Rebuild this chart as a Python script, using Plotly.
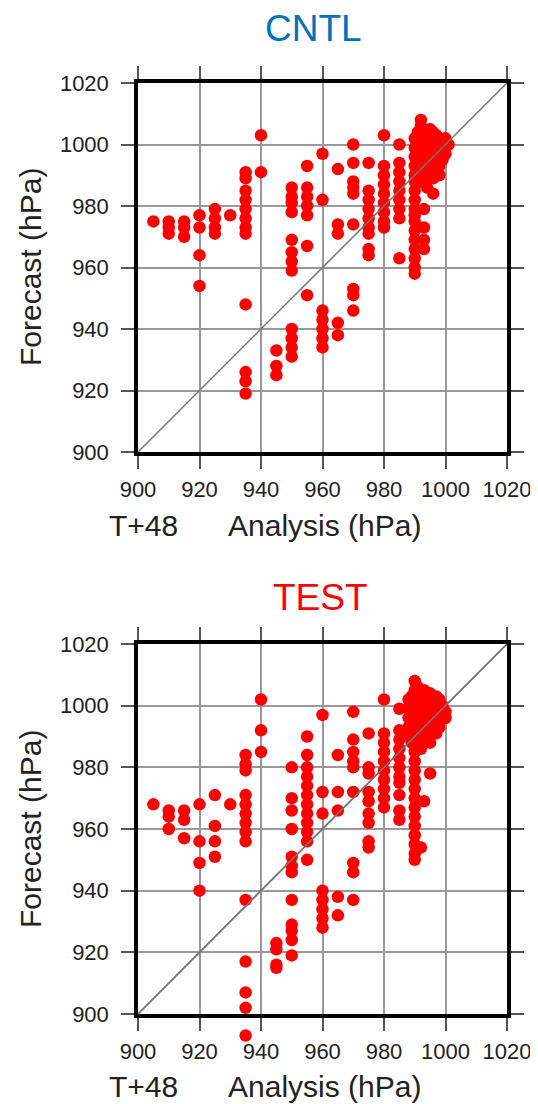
import plotly.graph_objects as go

# ---------------- data (hPa) ----------------
cntl_x = ([905] + [910]*3 + [915]*3 + [920]*4 + [925]*4 + [930] + [935]*12 + [940]*2 + [945]*3
          + [950]*12 + [955]*7 + [960]*7 + [965]*5 + [970]*9 + [975]*9 + [980]*9 + [985]*9
          + [990]*11 + [993]*4 + [996]
          + [990]*6 + [991]*6 + [992]*8 + [993]*6 + [994]*7 + [995]*6 + [996]*6 + [997]*5
          + [998]*5 + [999]*3 + [1000]*3 + [1001])
cntl_y = ([975] + [975, 973, 971] + [975, 973, 970] + [977, 973, 964, 954] + [979, 976, 973, 971] + [977]
          + [991, 989, 985, 982, 979, 976, 973, 971, 948, 926, 923, 919] + [1003, 991] + [933, 928, 925]
          + [986, 983, 981, 978, 969, 965, 962, 959, 940, 937, 934, 931]
          + [993, 986, 983, 980, 977, 967, 951]
          + [997, 982, 946, 943, 940, 937, 934]
          + [992, 974, 971, 942, 938]
          + [1000, 994, 988, 986, 984, 974, 953, 951, 946]
          + [994, 985, 982, 979, 976, 973, 971, 966, 964]
          + [1003, 993, 990, 987, 984, 981, 978, 975, 973]
          + [1000, 994, 991, 988, 985, 982, 979, 976, 963]
          + [985, 982, 979, 977, 975, 972, 969, 966, 963, 960, 958]
          + [979, 973, 969, 966] + [984]
          + [1002, 999, 996, 993, 990, 988]
          + [1004, 1001, 998, 995, 992, 989]
          + [1008, 1006, 1003, 1000, 997, 994, 991, 988]
          + [1005, 1002, 999, 996, 993, 990]
          + [1004, 1001, 998, 995, 992, 989, 986]
          + [1005, 1002, 999, 996, 993, 990]
          + [1004, 1001, 998, 995, 992, 989]
          + [1003, 1000, 997, 994, 991]
          + [1002, 999, 996, 993, 990]
          + [1001, 998, 995]
          + [1002, 999, 997]
          + [1000])

test_x = ([905] + [910]*3 + [915]*3 + [920]*4 + [925]*4 + [930] + [935]*14 + [940]*3 + [945]*4
          + [950]*12 + [955]*12 + [960]*8 + [965]*5 + [970]*9 + [975]*9 + [980]*10 + [985]*11
          + [990]*12 + [992] + [993] + [995]
          + [988]*5 + [989]*6 + [990]*9 + [991]*7 + [992]*7 + [993]*6 + [994]*6 + [995]*6
          + [996]*5 + [997]*5 + [998]*4 + [999]*2 + [1000]*2)
test_y = ([968] + [966, 964, 960] + [966, 963, 957] + [968, 956, 949, 940] + [971, 961, 956, 951] + [968]
          + [984, 981, 979, 971, 968, 965, 962, 959, 956, 937, 917, 907, 902, 893]
          + [1002, 992, 985] + [923, 921, 916, 915]
          + [980, 970, 966, 960, 951, 948, 946, 937, 929, 927, 924, 919]
          + [990, 984, 980, 977, 974, 971, 968, 965, 962, 959, 956, 950]
          + [997, 972, 965, 940, 937, 934, 931, 928]
          + [984, 972, 966, 938, 932]
          + [998, 989, 985, 982, 980, 972, 949, 946, 937]
          + [991, 980, 978, 972, 969, 965, 962, 956, 954]
          + [1002, 991, 988, 985, 982, 979, 976, 973, 970, 967]
          + [999, 992, 989, 986, 983, 980, 977, 975, 971, 966, 963]
          + [982, 979, 976, 973, 970, 967, 964, 961, 958, 955, 952, 950]
          + [954] + [969] + [978]
          + [1002, 999, 996, 993, 990]
          + [1003, 1000, 997, 994, 991, 988]
          + [1008, 1005, 1002, 999, 996, 993, 990, 987, 985]
          + [1006, 1003, 1000, 997, 994, 991, 988]
          + [1004, 1001, 998, 995, 992, 989, 986]
          + [1005, 1002, 999, 996, 993, 990]
          + [1004, 1001, 998, 995, 992, 989]
          + [1004, 1001, 998, 995, 992, 988]
          + [1003, 1000, 997, 994, 991]
          + [1003, 1000, 997, 994, 991]
          + [1002, 999, 996, 993]
          + [1000, 997]
          + [998, 996])

diag = [900, 1020]
tick_vals = [900, 920, 940, 960, 980, 1000, 1020]
tick_text = ["900", "920", "940", "960", "980", "1000", "1020"]

# ---------------- figure ----------------
# page body has an 8px default margin, so the figure is 8px smaller and offset
OFF = 8
W, H = 538 - OFF, 1104 - OFF
FONT = "Liberation Sans, Arial, Helvetica, sans-serif"
LO, HI = 900, 1020

def px_x(p):
    return (p - OFF) / W

def px_y(p):
    return 1 - (p - OFF) / H

# bottom panel pixel extents; an invisible extra axis pair extends below so the
# one TEST value under 900 hPa is drawn outside the frame, as in the original
B_TOP, B_BOT, B_EXT = 644, 1014, 1050
ext_lo = LO - (B_EXT - B_BOT) * (HI - LO) / (B_BOT - B_TOP)

fig = go.Figure()
fig.add_trace(go.Scatter(x=cntl_x, y=cntl_y, mode="markers", xaxis="x", yaxis="y",
                         marker=dict(color="#ff0000", size=12.5, line=dict(width=0)),
                         cliponaxis=False, showlegend=False, hoverinfo="x+y"))
fig.add_trace(go.Scatter(x=diag, y=diag, mode="lines", xaxis="x", yaxis="y",
                         line=dict(color="#777777", width=1.5), showlegend=False, hoverinfo="skip"))
# visible frame/grid of the TEST panel (diagonal drawn here too, under the points)
fig.add_trace(go.Scatter(x=diag, y=diag, mode="lines", xaxis="x2", yaxis="y2",
                         line=dict(color="#777777", width=1.5), showlegend=False, hoverinfo="skip"))
fig.add_trace(go.Scatter(x=test_x, y=test_y, mode="markers", xaxis="x3", yaxis="y3",
                         marker=dict(color="#ff0000", size=12.5, line=dict(width=0)),
                         cliponaxis=False, showlegend=False, hoverinfo="x+y"))
fig.add_trace(go.Scatter(x=diag, y=diag, mode="lines", xaxis="x3", yaxis="y3",
                         line=dict(color="#777777", width=1.5), showlegend=False, hoverinfo="skip"))

axis_common = dict(range=[LO, HI], tickvals=tick_vals, ticktext=tick_text,
                   showgrid=True, gridcolor="#999999", gridwidth=1.5,
                   showline=True, linecolor="black", linewidth=3.5, mirror="ticks",
                   ticks="outside", ticklen=13, tickwidth=1.5, tickcolor="#555555",
                   tickfont=dict(family=FONT, size=22, color="#222222"),
                   zeroline=False, fixedrange=True, automargin=False)

xdom = [px_x(138), px_x(507)]
fig.update_layout(
    width=W, height=H,
    margin=dict(l=0, r=0, t=0, b=0, pad=0, autoexpand=False),
    paper_bgcolor="white", plot_bgcolor="rgba(0,0,0,0)",
    xaxis=dict(domain=xdom, anchor="y", ticklabelstandoff=2, **axis_common),
    yaxis=dict(domain=[px_y(452), px_y(83)], anchor="x", ticklabelstandoff=8, **axis_common),
    xaxis2=dict(domain=xdom, anchor="y2", ticklabelstandoff=2, **axis_common),
    yaxis2=dict(domain=[px_y(B_BOT), px_y(B_TOP)], anchor="x2", ticklabelstandoff=8, **axis_common),
    xaxis3=dict(domain=xdom, anchor="y3", range=[LO, HI], visible=False,
                showgrid=False, zeroline=False, fixedrange=True),
    yaxis3=dict(domain=[px_y(B_EXT), px_y(B_TOP)], anchor="x3", range=[ext_lo, HI],
                visible=False, showgrid=False, zeroline=False, fixedrange=True),
)

ann = []
ann.append(dict(text="CNTL", x=px_x(313), y=px_y(29), font=dict(family=FONT, size=37, color="#0070c0")))
ann.append(dict(text="TEST", x=px_x(320), y=px_y(597), font=dict(family=FONT, size=37, color="#ff0000")))
for yc in (267, 829):
    ann.append(dict(text="Forecast (hPa)", x=px_x(30), y=px_y(yc), textangle=-90,
                    font=dict(family=FONT, size=30, color="#222222")))
for yc in (525, 1086):
    ann.append(dict(text="T+48", x=px_x(143), y=px_y(yc), font=dict(family=FONT, size=30, color="#222222")))
    ann.append(dict(text="Analysis (hPa)", x=px_x(324), y=px_y(yc), font=dict(family=FONT, size=30, color="#222222")))
for a in ann:
    a.update(xref="paper", yref="paper", xanchor="center", yanchor="middle", showarrow=False)
fig.update_layout(annotations=ann)

fig.write_html("out.html")
